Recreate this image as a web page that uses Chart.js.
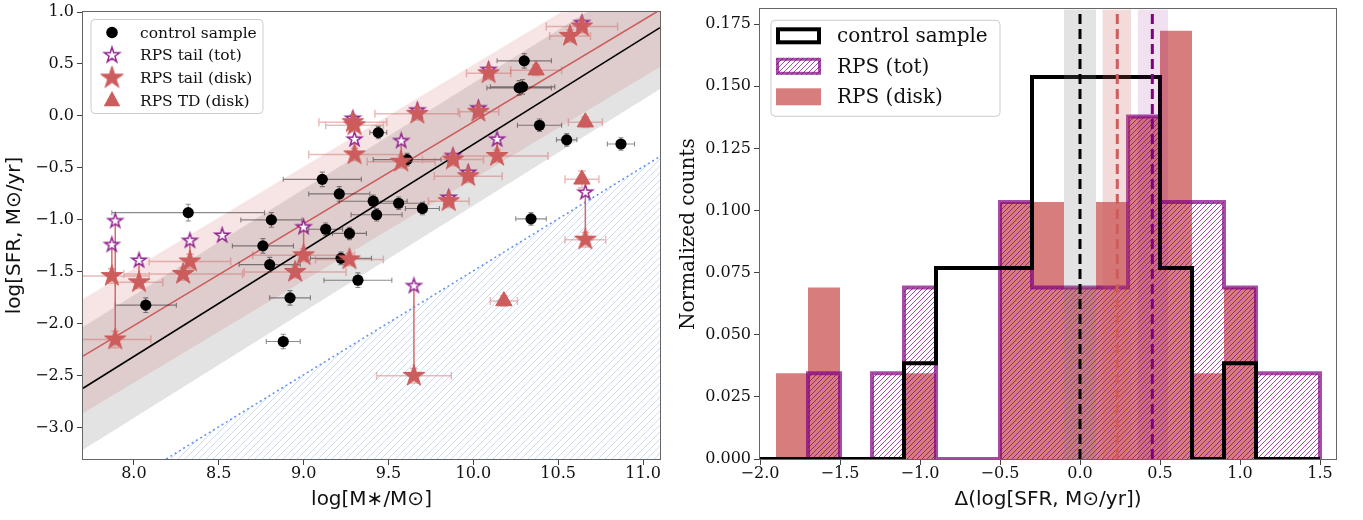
<!DOCTYPE html>
<html><head><meta charset="utf-8">
<script src="https://cdn.jsdelivr.net/npm/chart.js@4.4.1/dist/chart.umd.min.js"></script>
<style>
html,body{margin:0;padding:0;background:#fff;width:1363px;height:520px;overflow:hidden;}
#left{position:absolute;left:0;top:0;width:676px;height:520px;}
#right{position:absolute;left:676px;top:0;width:687px;height:520px;}
</style></head><body>
<div id="left"><canvas id="c1"></canvas></div>
<div id="right"><canvas id="c2"></canvas></div>
<script>
// ================= LEFT PANEL DATA =================
const controlMass = [8.07, 8.32, 8.76, 8.80, 8.81, 8.88, 8.92, 9.11, 9.13, 9.21, 9.22, 9.27, 9.32, 9.41, 9.43, 9.44, 9.56, 9.61, 9.70, 10.27, 10.29, 10.30, 10.34, 10.39, 10.55, 10.87];
const controlSFR = [-1.82, -0.93, -1.25, -1.43, -1.00, -2.17, -1.75, -0.61, -1.09, -0.75, -1.37, -1.13, -1.58, -0.82, -0.95, -0.16, -0.84, -0.42, -0.89, 0.27, 0.28, 0.53, -0.99, -0.09, -0.23, -0.27];
const controlMassErr = [0.18, 0.45, 0.18, 0.18, 0.18, 0.10, 0.12, 0.23, 0.10, 0.18, 0.18, 0.10, 0.20, 0.20, 0.15, 0.05, 0.15, 0.20, 0.10, 0.19, 0.19, 0.16, 0.09, 0.13, 0.06, 0.08];
const controlSFRErr = [0.07, 0.08, 0.07, 0.07, 0.07, 0.07, 0.07, 0.07, 0.06, 0.07, 0.06, 0.06, 0.07, 0.06, 0.06, 0.06, 0.06, 0.06, 0.06, 0.07, 0.07, 0.07, 0.06, 0.06, 0.06, 0.06];

const rpsMass = [7.87, 7.89, 8.03, 8.29, 8.33, 8.52, 8.95, 9.00, 9.27, 9.29, 9.30, 9.30, 9.575, 9.65, 9.67, 9.855, 9.88, 9.97, 10.03, 10.09, 10.14, 10.57, 10.64, 10.66];
const rpsTotSFR = [-1.24, -1.01, -1.39, -1.52, -1.20, -1.15, -1.50, -1.07, -1.38, -0.025, -0.09, -0.225, -0.24, -1.635, 0.055, -0.785, -0.385, -0.545, 0.075, 0.445, -0.225, 0.77, 0.895, -0.735];
const rpsDiskSFR = [-1.54, -2.15, -1.60, -1.52, -1.40, null, -1.50, -1.34, -1.38, -0.06, -0.09, -0.37, -0.44, -2.50, 0.02, -0.82, -0.42, -0.58, 0.04, 0.41, -0.385, 0.77, 0.86, -1.19];
const rpsMassErr = [0.22, 0.21, 0.14, 0.35, 0.24, 0, 0.30, 0.30, 0.20, 0.20, 0.17, 0.27, 0.20, 0.22, 0.25, 0.12, 0.18, 0.20, 0.12, 0.13, 0.30, 0.12, 0.21, 0.12];
const rpsSFRErr = [0.07, 0.08, 0.06, 0.06, 0.07, 0, 0.06, 0.06, 0.06, 0.07, 0.06, 0.06, 0.06, 0.07, 0.06, 0.06, 0.06, 0.06, 0.06, 0.06, 0.06, 0.06, 0.06, 0.07];

const tdMass = [10.18, 10.37, 10.64, 10.66];
const tdSFR = [-1.78, 0.44, -0.61, -0.06];
const tdMassErr = [0.08, 0.15, 0.10, 0.10];
const tdSFRErr = [0.05, 0.05, 0.08, 0.05];

const fitMass = [7.7, 11.1];
const controlFit = [-2.62, 0.85];
const controlFitLow = [-3.21, 0.26];
const controlFitHigh = [-2.03, 1.44];
const rpsFit = [-2.31, 1.02];
const rpsFitLow = [-2.86, 0.47];
const rpsFitHigh = [-1.76, 1.57];
const limitMass = [8.19, 11.1];
const limitSFR = [-3.3, -0.39];

const massTicks = [8.0, 8.5, 9.0, 9.5, 10.0, 10.5, 11.0];
const sfrTicks = [-3.0, -2.5, -2.0, -1.5, -1.0, -0.5, 0.0, 0.5, 1.0];

// ================= RIGHT PANEL DATA =================
const binEdges = [-2.1, -1.9, -1.7, -1.5, -1.3, -1.1, -0.9, -0.7, -0.5, -0.3, -0.1, 0.1, 0.3, 0.5, 0.7, 0.9, 1.1, 1.3, 1.5];
const controlHist = [0, 0, 0, 0, 0, 0.0385, 0.0769, 0.0769, 0.0769, 0.1538, 0.1538, 0.1538, 0.1538, 0.0769, 0, 0.0385, 0, 0];
const totHist = [0, 0, 0.0345, 0, 0.0345, 0.069, 0, 0, 0.1034, 0.069, 0.069, 0.069, 0.1379, 0.1034, 0.1034, 0.069, 0.0345, 0.0345];
const diskHist = [0, 0.0345, 0.069, 0, 0, 0.0345, 0, 0, 0.1034, 0.1034, 0.069, 0.1034, 0.1379, 0.1724, 0.0345, 0.069, 0, 0];
const medianValue = [0.0, 0.233, 0.452];      // control, disk, tot
const medianLow = [-0.1, 0.14, 0.36];
const medianHigh = [0.1, 0.32, 0.55];
const countMax = 0.181;
const deltaTicks = [-2.0, -1.5, -1.0, -0.5, 0.0, 0.5, 1.0, 1.5];
const countTicks = [0, 0.025, 0.05, 0.075, 0.1, 0.125, 0.15, 0.175];

// ================= STYLE HELPERS =================
const SERIF = "'DejaVu Serif', serif";
const SANS = "'DejaVu Sans', sans-serif";
Chart.defaults.font.family = SERIF;
Chart.defaults.color = '#111';
const RED = 'rgb(205,92,92)';
const PURPLE = 'rgb(128,0,128)';
const fmt = (v, d) => (v < -1e-9 ? '\u2212' : '') + Math.abs(v).toFixed(d);

function starPath(ctx, cx, cy, R) {
  const r = R * 0.381966;
  ctx.beginPath();
  for (let k = 0; k < 10; k++) {
    const a = -Math.PI / 2 + k * Math.PI / 5;
    const rr = k % 2 ? r : R;
    const px = cx + rr * Math.cos(a), py = cy + rr * Math.sin(a);
    if (k) ctx.lineTo(px, py); else ctx.moveTo(px, py);
  }
  ctx.closePath();
}
function starImage(R, fill, stroke, lw) {
  const s = Math.ceil(2 * R + lw + 4);
  const c = document.createElement('canvas'); c.width = c.height = s;
  const g = c.getContext('2d');
  starPath(g, s / 2, s / 2, R);
  g.fillStyle = fill; g.fill();
  g.lineWidth = lw; g.strokeStyle = stroke; g.lineJoin = 'miter'; g.stroke();
  return c;
}
function hatchPattern(canvasId, color, size, lw) {
  const c = document.createElement('canvas'); c.width = c.height = size;
  const g = c.getContext('2d');
  g.strokeStyle = color; g.lineWidth = lw;
  g.beginPath();
  g.moveTo(0, size); g.lineTo(size, 0);
  g.moveTo(-size / 2, size / 2); g.lineTo(size / 2, -size / 2);
  g.moveTo(size / 2, size * 1.5); g.lineTo(size * 1.5, size / 2);
  g.stroke();
  return document.getElementById(canvasId).getContext('2d').createPattern(c, 'repeat');
}
function roundRect(ctx, x, y, w, h, r) {
  ctx.beginPath();
  ctx.moveTo(x + r, y); ctx.lineTo(x + w - r, y); ctx.arcTo(x + w, y, x + w, y + r, r);
  ctx.lineTo(x + w, y + h - r); ctx.arcTo(x + w, y + h, x + w - r, y + h, r);
  ctx.lineTo(x + r, y + h); ctx.arcTo(x, y + h, x, y + h - r, r);
  ctx.lineTo(x, y + r); ctx.arcTo(x, y, x + r, y, r);
  ctx.closePath();
}

const redStar = starImage(11.4, RED, RED, 1);
const hollowStar = starImage(7.6, '#ffffff', 'rgba(128,0,128,0.85)', 1.5);
const redStarLegend = starImage(11.8, RED, RED, 1);
const hollowStarLegend = starImage(8, '#ffffff', 'rgba(128,0,128,0.85)', 1.5);

function axis(opts) {
  return {
    type: 'linear', min: opts.min, max: opts.max,
    afterBuildTicks: s => { s.ticks = opts.ticks.map(v => ({ value: v })); },
    afterFit: s => {
      if (opts.isY) s.width = opts.size; else s.height = opts.size;
      s.paddingTop = 0; s.paddingBottom = 0; s.paddingLeft = 0; s.paddingRight = 0;
    },
    ticks: { callback: v => fmt(v, opts.dec), font: { family: SERIF, size: 16, lineHeight: 1 }, color: '#111',
             padding: opts.isY ? 3 : 1, autoSkip: false, maxRotation: 0, minRotation: 0 },
    grid: { drawOnChartArea: false, drawTicks: true, tickLength: 6, color: '#444', tickColor: '#444', lineWidth: 1 },
    border: { display: false },
    title: { display: true, text: opts.title, font: opts.titleFont, color: '#111', padding: opts.titlePad }
  };
}

// plugin: axes frame (four spines)
const framePlugin = {
  id: 'frame',
  afterDatasetsDraw(chart) {
    const { ctx, chartArea: a } = chart;
    ctx.save();
    ctx.strokeStyle = '#666'; ctx.lineWidth = 1;
    ctx.strokeRect(Math.round(a.left) - 0.5, Math.round(a.top) - 0.5, Math.round(a.right - a.left) + 1, Math.round(a.bottom - a.top) + 1);
    ctx.restore();
  }
};

// plugin: error bars and connectors, drawn through the chart's scales
const errorBarPlugin = {
  id: 'errorBars',
  beforeDatasetDraw(chart, args) {
    const ds = chart.data.datasets[args.index];
    const xS = chart.scales.x, yS = chart.scales.y, ctx = chart.ctx, a = chart.chartArea;
    if (!ds.errorBars && !ds.connectors) return;
    ctx.save();
    ctx.beginPath(); ctx.rect(a.left, a.top, a.right - a.left, a.bottom - a.top); ctx.clip();
    if (ds.connectors) {
      const c = ds.connectors;
      ctx.strokeStyle = c.color; ctx.lineWidth = c.lineWidth;
      ctx.beginPath();
      c.x.forEach((xv, i) => {
        if (c.from[i] == null || c.to[i] == null || Math.abs(c.from[i] - c.to[i]) < 0.08) return;
        const px = xS.getPixelForValue(xv);
        ctx.moveTo(px, yS.getPixelForValue(c.from[i]));
        ctx.lineTo(px, yS.getPixelForValue(c.to[i]));
      });
      ctx.stroke();
    }
    if (ds.errorBars) {
      const e = ds.errorBars;
      ctx.strokeStyle = e.color; ctx.lineWidth = e.lineWidth;
      ctx.beginPath();
      e.x.forEach((xv, i) => {
        const yv = e.y[i];
        if (yv == null) return;
        const px = xS.getPixelForValue(xv), py = yS.getPixelForValue(yv);
        if (e.xerr[i] > 0) {
          const x0 = xS.getPixelForValue(xv - e.xerr[i]), x1 = xS.getPixelForValue(xv + e.xerr[i]);
          ctx.moveTo(x0, py); ctx.lineTo(x1, py);
          ctx.moveTo(x0, py - e.cap); ctx.lineTo(x0, py + e.cap);
          ctx.moveTo(x1, py - e.cap); ctx.lineTo(x1, py + e.cap);
        }
        if (e.yerr[i] > 0) {
          const y0 = yS.getPixelForValue(yv - e.yerr[i]), y1 = yS.getPixelForValue(yv + e.yerr[i]);
          ctx.moveTo(px, y0); ctx.lineTo(px, y1);
          ctx.moveTo(px - e.cap, y0); ctx.lineTo(px + e.cap, y0);
          ctx.moveTo(px - e.cap, y1); ctx.lineTo(px + e.cap, y1);
        }
      });
      ctx.stroke();
    }
    ctx.restore();
  }
};

// legend for the left panel
const leftLegendPlugin = {
  id: 'leftLegend',
  afterDraw(chart) {
    const { ctx, chartArea: a } = chart;
    const ds = chart.data.datasets;
    const fx = a.left + 8, fy = a.top + 7.5, fw = 172, fh = 94;
    ctx.save();
    roundRect(ctx, fx, fy, fw, fh, 4);
    ctx.fillStyle = 'rgba(255,255,255,0.8)'; ctx.fill();
    ctx.strokeStyle = '#cccccc'; ctx.lineWidth = 1; ctx.stroke();
    const entries = ds.filter(d => d.legendRank !== undefined).sort((p, q) => p.legendRank - q.legendRank);
    ctx.font = "15.5px " + SERIF; ctx.textBaseline = 'middle'; ctx.fillStyle = '#111';
    entries.forEach((d, k) => {
      const cy = fy + 13 + k * 22.7, mx = fx + 21;
      if (d.legendMarker === 'circle') {
        ctx.beginPath(); ctx.arc(mx, cy, 5.8, 0, Math.PI * 2); ctx.fillStyle = '#000'; ctx.fill();
      } else if (d.legendMarker === 'triangle') {
        const r = 9.6;
        ctx.beginPath();
        ctx.moveTo(mx, cy - r); ctx.lineTo(mx + r * 0.866, cy + r * 0.6); ctx.lineTo(mx - r * 0.866, cy + r * 0.6); ctx.closePath();
        ctx.fillStyle = RED; ctx.fill();
      } else {
        const img = d.legendMarker === 'hollow' ? hollowStarLegend : redStarLegend;
        ctx.drawImage(img, mx - img.width / 2, cy - img.height / 2);
      }
      ctx.fillStyle = '#111';
      ctx.fillText(d.label, fx + 49, cy + 1);
    });
    ctx.restore();
  }
};

// legend for the right panel
const rightLegendPlugin = {
  id: 'rightLegend',
  afterDraw(chart) {
    const { ctx, chartArea: a } = chart;
    const ds = chart.data.datasets;
    const fx = a.left + 11, fy = a.top + 11, fw = 229, fh = 96;
    ctx.save();
    roundRect(ctx, fx, fy, fw, fh, 4);
    ctx.fillStyle = 'rgba(255,255,255,0.8)'; ctx.fill();
    ctx.strokeStyle = '#cccccc'; ctx.lineWidth = 1; ctx.stroke();
    const entries = ds.filter(d => d.legendRank !== undefined).sort((p, q) => p.legendRank - q.legendRank);
    ctx.font = "20px " + SERIF; ctx.textBaseline = 'middle';
    entries.forEach((d, k) => {
      const cy = fy + 15.5 + k * 30.5;
      const bx = fx + 5, bw = 45, bh = 17, by = cy - bh / 2;
      if (d.legendBox === 'outline') {
        ctx.fillStyle = '#fff'; ctx.fillRect(bx, by, bw, bh);
        ctx.lineWidth = 4; ctx.strokeStyle = '#000'; ctx.lineJoin = 'miter';
        ctx.strokeRect(bx + 2, by + 2, bw - 4, bh - 4);
      } else if (d.legendBox === 'hatch') {
        ctx.fillStyle = d.backgroundColor; ctx.fillRect(bx, by, bw, bh);
        ctx.lineWidth = 3; ctx.strokeStyle = d.borderColor;
        ctx.strokeRect(bx + 1.5, by + 1.5, bw - 3, bh - 3);
      } else {
        ctx.fillStyle = d.backgroundColor; ctx.fillRect(bx, by, bw, bh);
      }
      ctx.fillStyle = '#111';
      ctx.fillText(d.label, fx + 66, cy + 1);
    });
    ctx.restore();
  }
};

// ================= LEFT CHART =================
const pts = (xs, ys) => xs.map((x, i) => ({ x, y: ys[i] })).filter(p => p.y != null);
const blueHatch = hatchPattern('c1', 'rgba(100,149,237,0.33)', 7, 1);
const lineDs = (label, ys, color, width, extra) => Object.assign({
  type: 'line', label, data: pts(fitMass, ys), borderColor: color, borderWidth: width,
  pointRadius: 0, fill: false, tension: 0
}, extra || {});

new Chart(document.getElementById('c1'), {
  type: 'scatter',
  data: {
    datasets: [
      { label: 'RPS tail (disk)', data: pts(rpsMass, rpsDiskSFR), pointStyle: redStar, pointRadius: 11,
        backgroundColor: RED, borderColor: RED, order: 1, legendRank: 2, legendMarker: 'star',
        errorBars: { x: rpsMass, y: rpsDiskSFR, xerr: rpsMassErr, yerr: rpsSFRErr, color: 'rgba(205,92,92,0.42)', lineWidth: 1.5, cap: 4 } },
      { label: 'RPS TD (disk)', data: pts(tdMass, tdSFR), pointStyle: 'triangle', pointRadius: 9.4,
        backgroundColor: RED, borderColor: RED, borderWidth: 1, order: 0, legendRank: 3, legendMarker: 'triangle',
        errorBars: { x: tdMass, y: tdSFR, xerr: tdMassErr, yerr: tdSFRErr, color: 'rgba(205,92,92,0.42)', lineWidth: 1.5, cap: 4 } },
      { label: 'RPS tail (tot)', data: pts(rpsMass, rpsTotSFR), pointStyle: hollowStar, pointRadius: 8,
        backgroundColor: '#fff', borderColor: PURPLE, order: 2, legendRank: 1, legendMarker: 'hollow',
        connectors: { x: rpsMass, from: rpsTotSFR, to: rpsDiskSFR, color: 'rgba(205,92,92,0.9)', lineWidth: 1.5 } },
      { label: 'control sample', data: pts(controlMass, controlSFR), pointStyle: 'circle', pointRadius: 5.6,
        backgroundColor: '#000', borderColor: '#000', borderWidth: 0, order: 3, legendRank: 0, legendMarker: 'circle',
        errorBars: { x: controlMass, y: controlSFR, xerr: controlMassErr, yerr: controlSFRErr, color: 'rgba(0,0,0,0.45)', lineWidth: 1.1, cap: 2.5 } },
      lineDs('control fit', controlFit, '#000', 1.6, { order: 4 }),
      lineDs('RPS fit', rpsFit, RED, 1.6, { order: 4 }),
      { type: 'line', label: 'detection limit', data: pts(limitMass, limitSFR), borderColor: 'cornflowerblue',
        borderWidth: 1.6, borderDash: [2, 3], pointRadius: 0, tension: 0, fill: false, order: 7 },
      { type: 'line', label: 'limit hatch', data: pts(limitMass, limitSFR), borderColor: 'rgba(0,0,0,0)',
        borderWidth: 0, pointRadius: 0, tension: 0, fill: 'start', backgroundColor: blueHatch, order: 8 },
      lineDs('control band high', controlFitHigh, 'rgba(0,0,0,0)', 0, { fill: '+1', backgroundColor: 'rgba(128,128,128,0.22)', order: 6 }),
      lineDs('control band low', controlFitLow, 'rgba(0,0,0,0)', 0, { order: 6 }),
      lineDs('RPS band high', rpsFitHigh, 'rgba(0,0,0,0)', 0, { fill: '+1', backgroundColor: 'rgba(205,92,92,0.16)', order: 5 }),
      lineDs('RPS band low', rpsFitLow, 'rgba(0,0,0,0)', 0, { order: 5 })
    ]
  },
  options: {
    responsive: true, maintainAspectRatio: false, animation: false, devicePixelRatio: 1, events: [],
    layout: { padding: { left: 0, right: 16, top: 7.5, bottom: 0 } },
    plugins: { legend: { display: false }, tooltip: { enabled: false } },
    scales: {
      x: axis({ min: 7.7, max: 11.1, ticks: massTicks, dec: 1, size: 61, isY: false,
                title: 'log[M\u2217/M\u2299]', titleFont: { family: SANS, size: 20, lineHeight: 1.2 }, titlePad: { top: 0, bottom: 8 } }),
      y: axis({ min: -3.3, max: 1.0, ticks: sfrTicks, dec: 1, size: 83, isY: true,
                title: 'log[SFR, M\u2299/yr]', titleFont: { family: SANS, size: 20, lineHeight: 1.2 }, titlePad: { top: 3, bottom: 0 } })
    }
  },
  plugins: [errorBarPlugin, framePlugin, leftLegendPlugin]
});

// ================= RIGHT CHART =================
function stepPoints(edges, vals) {
  const p = [{ x: edges[0], y: 0 }];
  vals.forEach((v, i) => p.push({ x: edges[i], y: v }));
  p.push({ x: edges[edges.length - 1], y: 0 });
  return p;
}
const purpleHatch = hatchPattern('c2', 'rgba(128,0,128,0.7)', 5, 1);
const bandDs = (label, lo, hi, color) => ({
  type: 'line', label, data: [{ x: lo, y: countMax }, { x: hi, y: countMax }], borderColor: 'rgba(0,0,0,0)',
  borderWidth: 0, pointRadius: 0, fill: 'origin', backgroundColor: color, order: 1
});
const vlineDs = (label, x, color) => ({
  type: 'line', label, data: [{ x, y: 0 }, { x, y: countMax }], borderColor: color, borderWidth: 3,
  borderDash: [10, 5], pointRadius: 0, fill: false, order: 0
});

new Chart(document.getElementById('c2'), {
  type: 'line',
  data: {
    datasets: [
      vlineDs('median tot', medianValue[2], PURPLE),
      vlineDs('median disk', medianValue[1], 'rgba(205,92,92,1)'),
      vlineDs('median control', medianValue[0], '#000'),
      bandDs('tot range', medianLow[2], medianHigh[2], 'rgba(128,0,128,0.12)'),
      bandDs('disk range', medianLow[1], medianHigh[1], 'rgba(205,92,92,0.22)'),
      bandDs('control range', medianLow[0], medianHigh[0], 'rgba(128,128,128,0.22)'),
      { label: 'control sample', data: stepPoints(binEdges, controlHist), stepped: 'before', borderColor: '#000',
        borderWidth: 4, borderJoinStyle: 'miter', backgroundColor: '#fff', fill: false, pointRadius: 0, order: 2,
        legendRank: 0, legendBox: 'outline' },
      { label: 'RPS (tot)', data: stepPoints(binEdges, totHist), stepped: 'before', borderColor: 'rgba(128,0,128,0.7)',
        borderWidth: 4, borderJoinStyle: 'miter', backgroundColor: purpleHatch, fill: 'origin', pointRadius: 0, order: 3,
        legendRank: 1, legendBox: 'hatch' },
      { label: 'RPS (disk)', data: stepPoints(binEdges, diskHist), stepped: 'before', borderColor: 'rgba(0,0,0,0)',
        borderWidth: 0, backgroundColor: 'rgba(205,92,92,0.8)', fill: 'origin', pointRadius: 0, order: 4,
        legendRank: 2, legendBox: 'fill' }
    ]
  },
  options: {
    responsive: true, maintainAspectRatio: false, animation: false, devicePixelRatio: 1, events: [],
    layout: { padding: { left: 0, right: 27, top: 9.3, bottom: 0 } },
    plugins: { legend: { display: false }, tooltip: { enabled: false } },
    scales: {
      x: axis({ min: -2.0, max: 1.6, ticks: deltaTicks, dec: 1, size: 61, isY: false,
                title: '\u0394(log[SFR, M\u2299/yr])', titleFont: { family: SANS, size: 20, lineHeight: 1.2 }, titlePad: { top: 0, bottom: 8 } }),
      y: axis({ min: 0, max: countMax, ticks: countTicks, dec: 3, size: 84, isY: true,
                title: 'Normalized counts', titleFont: { family: SERIF, size: 20, lineHeight: 1.2 }, titlePad: { top: 1, bottom: 0 } })
    }
  },
  plugins: [framePlugin, rightLegendPlugin]
});
</script>
</body></html>
